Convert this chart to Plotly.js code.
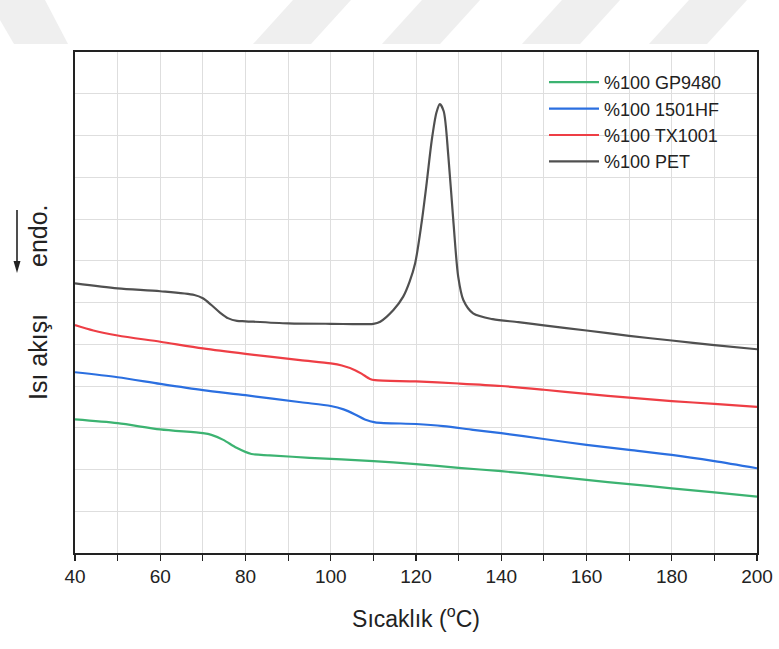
<!DOCTYPE html>
<html>
<head>
<meta charset="utf-8">
<script src="https://cdn.plot.ly/plotly-3.0.1.min.js"></script>
<style>html,body{margin:0;padding:0;background:#fff}#chart{width:779px;height:649px}</style>
</head>
<body>
<div id="chart"></div>
<script>
// ---- data ----
const seriesNames = ["%100 GP9480", "%100 1501HF", "%100 TX1001", "%100 PET"];

const gpX = [40,50,60,70,72,74.8,77.9,81.4,85.7,95,110,120,130,140,150,160,170,180,190,200];
const gpY = [3.20,3.11,2.96,2.87,2.83,2.71,2.52,2.37,2.34,2.28,2.20,2.13,2.04,1.96,1.86,1.75,1.65,1.55,1.45,1.35];

const hfX = [40,50,60,70,80,93,100,103,105.7,108,110.4,120,126.4,133.4,140,150,160,170,180,190,200];
const hfY = [4.33,4.21,4.05,3.90,3.78,3.61,3.52,3.44,3.32,3.20,3.13,3.09,3.04,2.95,2.87,2.73,2.59,2.47,2.35,2.20,2.03];

const txX = [40,44.3,50,60,70,80,92.8,100,102.6,105.7,107.3,109.2,110.4,120,130,140,150,160,170,180,190,200];
const txY = [5.46,5.33,5.21,5.06,4.90,4.77,4.62,4.54,4.49,4.38,4.29,4.17,4.14,4.11,4.06,4.00,3.91,3.81,3.72,3.64,3.57,3.50];

const petX = [40,50,60,68,70,72,74,76,78,80,90,100,110,111.6,114.7,117,118.5,119.8,121.3,122.5,123.7,124.8,125.6,126.5,127.6,128.8,129.9,131.1,133.4,138,144,150,160,170,180,190,200];
const petY = [6.46,6.34,6.27,6.18,6.10,5.94,5.76,5.62,5.56,5.55,5.50,5.49,5.49,5.54,5.82,6.14,6.50,6.94,7.90,8.86,9.89,10.55,10.75,10.58,9.49,7.90,6.62,6.06,5.74,5.60,5.53,5.45,5.33,5.20,5.09,4.98,4.88];

const xTickVals = [40,60,80,100,120,140,160,180,200];

// ---- styling ----
const colors = ["#3cb371", "#2b6fe0", "#ee3e45", "#505050"];
const xs = [gpX, hfX, txX, petX];
const ys = [gpY, hfY, txY, petY];

const traces = seriesNames.map((n, i) => ({
  type: "scatter", mode: "lines", name: n,
  x: xs[i], y: ys[i],
  line: {color: colors[i], width: 2.2, shape: "spline", smoothing: 0.8}
}));

// plot area in pixels
const L = 75, R = 757, T = 52, B = 553;
const px2x = p => (p - L) / (R - L);
const px2y = p => (B - p) / (B - T);

// watermark stripes (decoration)
const shapes = [];
[293, 422, 562, 689].forEach(a => {
  shapes.push({
    type: "path", xref: "paper", yref: "paper", layer: "below",
    path: `M${px2x(a)},${px2y(0)} L${px2x(a+58)},${px2y(0)} L${px2x(a+18)},${px2y(44)} L${px2x(a-40)},${px2y(44)} Z`,
    fillcolor: "#efefef", line: {width: 0}
  });
});
shapes.push({
  type: "path", xref: "paper", yref: "paper", layer: "below",
  path: `M${px2x(0)},${px2y(0)} L${px2x(45)},${px2y(0)} L${px2x(68)},${px2y(44)} L${px2x(14)},${px2y(44)} L${px2x(0)},${px2y(20)} Z`,
  fillcolor: "#efefef", line: {width: 0}
});
// "endo." arrow
shapes.push({type: "line", xref: "paper", yref: "paper", x0: px2x(17), x1: px2x(17), y0: px2y(210), y1: px2y(263),
  line: {color: "#222", width: 1.6}});
shapes.push({type: "path", xref: "paper", yref: "paper", fillcolor: "#222", line: {width: 0},
  path: `M${px2x(13.5)},${px2y(261)} L${px2x(20.5)},${px2y(261)} L${px2x(17)},${px2y(273)} Z`});

const fontFam = "Liberation Sans, Arial, sans-serif";
const layout = {
  width: 779, height: 649,
  margin: {l: L, r: 779 - R, t: T, b: 649 - B},
  paper_bgcolor: "#ffffff", plot_bgcolor: "rgba(0,0,0,0)",
  font: {family: fontFam, color: "#222", size: 18},
  showlegend: true,
  legend: {
    x: px2x(544), y: px2y(64), xanchor: "left", yanchor: "top",
    bgcolor: "rgba(0,0,0,0)", borderwidth: 0,
    font: {family: fontFam, size: 18, color: "#222"},
    itemwidth: 50, tracegroupgap: 0
  },
  xaxis: {
    range: [40, 200], tickvals: xTickVals, ticks: "outside", ticklen: 6, tickwidth: 1.2, tickcolor: "#222",
    showline: true, linecolor: "#222", linewidth: 1.6, mirror: true,
    showgrid: true, gridcolor: "#dedede", gridwidth: 1, zeroline: false,
    minor: {dtick: 10, tick0: 40, ticks: "outside", ticklen: 6, tickwidth: 1.2, tickcolor: "#222", showgrid: true, gridcolor: "#dedede", gridwidth: 1},
    tickfont: {family: fontFam, size: 19, color: "#222"},
    title: {text: "Sıcaklık (<sup>o</sup>C)", font: {family: fontFam, size: 23, color: "#222"}, standoff: 24}
  },
  yaxis: {
    range: [0, 12], dtick: 1, tick0: 0, showticklabels: false, ticks: "",
    showline: true, linecolor: "#222", linewidth: 1.6, mirror: true,
    showgrid: true, gridcolor: "#dedede", gridwidth: 1, zeroline: false
  },
  shapes: shapes,
  annotations: [
    {xref: "paper", yref: "paper", x: px2x(38), y: px2y(357), text: "Isı akışı", showarrow: false, textangle: -90,
     font: {family: fontFam, size: 25, color: "#222"}, xanchor: "center", yanchor: "middle"},
    {xref: "paper", yref: "paper", x: px2x(38), y: px2y(236), text: "endo.", showarrow: false, textangle: -90,
     font: {family: fontFam, size: 25, color: "#222"}, xanchor: "center", yanchor: "middle"}
  ]
};

Plotly.newPlot("chart", traces, layout, {displayModeBar: false, staticPlot: true});
</script>
</body>
</html>
